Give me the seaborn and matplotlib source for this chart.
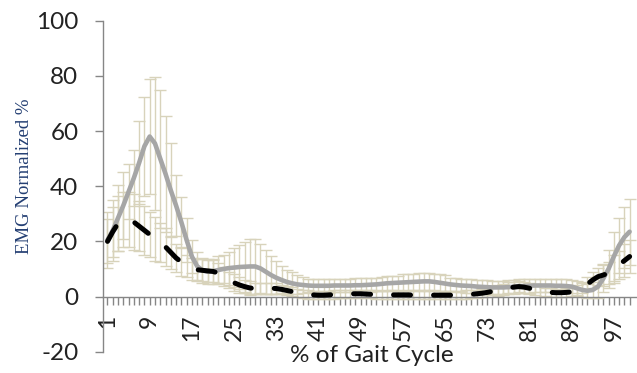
import numpy as np
import pandas as pd
import matplotlib
matplotlib.use("Agg")
import matplotlib.pyplot as plt
import seaborn as sns

# ---- data ----
gait_pct = list(range(1, 101))

grey_mean = [
    20.5, 24.0, 28.5, 33.0, 38.0, 43.0, 48.5, 54.5, 58.0, 55.5,
    50.0, 44.5, 38.5, 33.0, 27.0, 20.5, 14.5, 11.0, 9.5, 9.0,
    9.2, 9.6, 10.0, 10.3, 10.5, 10.7, 10.8, 10.9, 10.9, 10.2,
    9.0, 7.8, 6.8, 6.0, 5.3, 4.8, 4.4, 4.2, 4.0, 3.9,
    3.9, 3.9, 3.9, 4.0, 4.0, 4.0, 4.0, 4.1, 4.1, 4.2,
    4.3, 4.4, 4.6, 4.8, 4.9, 5.0, 5.1, 5.2, 5.3, 5.4,
    5.5, 5.5, 5.3, 5.0, 4.7, 4.4, 4.2, 4.0, 3.9, 3.8,
    3.6, 3.5, 3.4, 3.3, 3.3, 3.3, 3.4, 3.5, 3.7, 3.8,
    3.9, 4.0, 4.0, 4.0, 4.0, 3.9, 3.9, 3.8, 3.6, 3.0,
    2.4, 2.1, 2.4, 3.6, 6.5, 10.0, 14.5, 18.5, 21.5, 23.5,
]

grey_sd = [
    10, 11, 12, 12, 10, 10, 15, 18, 21, 24,
    25, 21, 17, 11, 9, 8, 6, 5, 4.5, 4.5,
    4.5, 5, 5, 6, 7, 8, 9, 10, 10, 9,
    8, 7, 6, 5, 4.5, 4, 3.5, 3, 2.5, 2.5,
    2.5, 2.5, 2.5, 2.5, 2.5, 2.5, 2.5, 2.5, 2.5, 2.5,
    2.5, 2.5, 2.5, 2.5, 2.5, 2.5, 3, 3, 3, 3,
    3, 3, 3, 3, 3, 2.5, 2.5, 2.5, 2.5, 2.5,
    2.5, 2.5, 2.5, 2.5, 2.5, 2.5, 2.5, 2.5, 2.5, 2.5,
    2.5, 2.5, 2.5, 2.5, 2.5, 2.5, 2.5, 2.5, 2.5, 2.5,
    2.5, 2.5, 3, 4, 5, 7, 9, 10, 11, 12,
]

black_mean = [
    20.0, 23.5, 26.5, 28.0, 28.0, 27.0, 25.5, 24.0, 22.5, 21.0,
    19.5, 18.0, 16.0, 14.0, 12.5, 11.0, 10.0, 9.7, 9.5, 9.3,
    9.1, 8.5, 7.3, 6.0, 5.0, 4.2, 3.6, 3.1, 2.9, 2.9,
    3.0, 3.0, 2.9, 2.6, 2.2, 1.8, 1.3, 0.9, 0.7, 0.6,
    0.5, 0.5, 0.6, 0.7, 0.8, 0.9, 1.0, 1.0, 1.0, 0.9,
    0.8, 0.7, 0.6, 0.6, 0.6, 0.6, 0.6, 0.6, 0.5, 0.5,
    0.5, 0.5, 0.5, 0.5, 0.5, 0.5, 0.5, 0.6, 0.7, 0.8,
    1.0, 1.2, 1.5, 1.9, 2.3, 2.7, 3.1, 3.4, 3.6, 3.4,
    3.0, 2.5, 2.0, 1.7, 1.5, 1.4, 1.4, 1.5, 1.7, 2.3,
    3.2, 4.5, 6.0, 7.2, 7.8, 8.5, 10.0, 11.5, 13.0, 14.5,
]

black_sd = [
    8, 9, 10, 10, 10, 10, 9, 9, 8, 8,
    7, 7, 6, 5, 5, 4, 4, 4, 4, 4,
    4, 3.5, 3.5, 3, 3, 3, 2.5, 2.5, 2, 2,
    2, 2, 2, 1.5, 1.5, 1.5, 1.5, 1.5, 1.5, 1.5,
    1.5, 1.5, 1.5, 1.5, 1.5, 1.5, 1.5, 1.5, 1.5, 1.5,
    1.5, 1.5, 1.5, 1.5, 1.5, 1.5, 1.5, 1.5, 1.5, 1.5,
    1.5, 1.5, 1.5, 1.5, 1.5, 1.5, 1.5, 1.5, 1.5, 1.5,
    1.5, 1.5, 1.5, 1.5, 2, 2, 2, 2, 2, 2,
    2, 2, 2, 1.5, 1.5, 1.5, 1.5, 1.5, 1.5, 2,
    2, 2.5, 3, 3, 4, 4, 5, 5, 6, 6,
]

ytick_vals = [-20, 0, 20, 40, 60, 80, 100]
xtick_labels = [1, 9, 17, 25, 33, 41, 49, 57, 65, 73, 81, 89, 97]

# ---- styling ----
sns.set_theme(style="white")
plt.rcParams["font.family"] = ["Lato", "DejaVu Sans"]

GREY = "#A6A6A6"
ERR = "#D8D3BB"
AXC = "#868686"

df = pd.DataFrame({
    "pct": gait_pct * 2,
    "emg": grey_mean + black_mean,
    "series": ["grey"] * 100 + ["black"] * 100,
})

fig = plt.figure(figsize=(6.37, 3.73), dpi=100)
ax = fig.add_axes([102.7 / 637, 1 - 351.7 / 373, 1 - 102.7 / 637, (351.7 - 20.7) / 373])

ax.errorbar(gait_pct, grey_mean, yerr=grey_sd, fmt="none", ecolor=ERR,
            elinewidth=1.0, capsize=4.2, capthick=1.0, zorder=1)
ax.errorbar(gait_pct, black_mean, yerr=black_sd, fmt="none", ecolor=ERR,
            elinewidth=1.0, capsize=4.2, capthick=1.0, zorder=1)

sns.lineplot(data=df[df.series == "grey"], x="pct", y="emg", color=GREY,
             linewidth=3.3, ax=ax, zorder=3, legend=False)
sns.lineplot(data=df[df.series == "black"], x="pct", y="emg", color="black",
             linewidth=3.6, ax=ax, zorder=4, legend=False)
bl = ax.lines[-1]
bl.set_dashes((3.4, 4.6))
bl.set_dash_capstyle("round")
ax.lines[-2].set_solid_capstyle("round")

ax.set_xlim(0.09, 101.4)
ax.set_ylim(-20, 100)

for s in ["top", "right"]:
    ax.spines[s].set_visible(False)
ax.spines["bottom"].set_position(("data", 0))
ax.spines["bottom"].set_color(AXC)
ax.spines["left"].set_color(AXC)
ax.spines["bottom"].set_linewidth(1.0)
ax.spines["left"].set_linewidth(1.0)

ax.set_yticks(ytick_vals)
ax.set_yticklabels([str(v) for v in ytick_vals])
ax.tick_params(axis="y", direction="out", length=5.5, width=1.0, color=AXC,
               pad=12, labelsize=17.5, labelcolor="#222222", left=True)

ax.set_xticks(gait_pct)
ax.set_xticklabels([str(v) if v in xtick_labels else "" for v in gait_pct],
                   rotation=90)
ax.tick_params(axis="x", direction="out", length=5.8, width=1.0, color=AXC,
               pad=7, labelsize=16.5, labelcolor="#222222", bottom=True)

ax.set_xlabel("")
ax.set_ylabel("")
fig.text(372 / 637, 1 - 356 / 373, "% of Gait Cycle", ha="center", va="center",
         fontsize=17.5, color="#222222")
fig.text(25 / 637, 1 - 176 / 373, "EMG Normalized %", rotation=90, ha="center",
         va="center", fontsize=13.5, color="#243F73", family="Liberation Serif")

ax.grid(False)
fig.savefig("out.png", dpi=100)
